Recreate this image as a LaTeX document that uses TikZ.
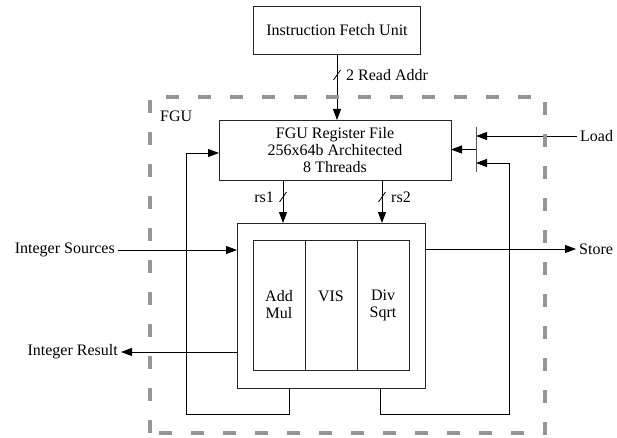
\documentclass[tikz,border=0pt]{standalone}
\usepackage{fontspec}
\setmainfont{Liberation Serif}
\usepackage{tikz}
\usetikzlibrary{arrows.meta,positioning,calc}
\definecolor{fgugray}{RGB}{150,150,150}

\begin{document}
\begin{tikzpicture}[
        x=1pt, y=-1pt,
        font=\fontsize{16}{17}\selectfont,
        box/.style={draw=black!85, line width=0.8pt, align=center,
                    inner sep=0pt, outer sep=0pt},
        cell/.style={box, minimum width=52pt, minimum height=130pt},
        lbl/.style={inner sep=3pt},
        arr/.style={-{Triangle[length=11pt,width=8pt]}, line width=0.8pt},
        wire/.style={line width=0.8pt},
        fgubox/.style={draw=fgugray, line width=4pt, dash pattern=on 13pt off 19pt},
        busmark/.pic={\draw[wire] (-3.5,5) -- (3.5,-5);}
      ]
        \useasboundingbox (0,0) rectangle (617,438);

        \node[box, minimum width=167pt, minimum height=48pt] (ifu) at (337,30)
          {Instruction Fetch Unit};
        \node[box, minimum width=232pt, minimum height=60pt] (regfile) at (335,150)
          {FGU Register File\\256x64b Architected\\8 Threads};
        \node[box, minimum width=188pt, minimum height=165pt] (exec) at (331,305.5) {};
        \node[cell] (addmul) at (279,305) {Add\\Mul};
        \node[cell, right=0pt of addmul] (vis) {VIS\\\phantom{I}};
        \node[cell, right=0pt of vis] (divsqrt) {Div\\Sqrt};
        \node[draw, line width=0.8pt, minimum width=0pt, minimum height=45pt,
              inner sep=0pt, outer sep=0pt] (mux) at (476,149.5) {};

        \node[lbl, anchor=west] (fgulabel) at (157,116) {FGU};
        \node[lbl, anchor=west] (rdaddr) at (343,75) {2 Read Addr};
        \node[lbl, anchor=east] (rs1) at (277,197) {rs1};
        \node[lbl, anchor=west] (rs2) at (388,197) {rs2};
        \node[lbl, anchor=east] (intsrc) at (118,250) {Integer Sources};
        \node[lbl, anchor=east] (intres) at (121,352) {Integer Result};
        \node[lbl, anchor=west] (store) at (576,249) {Store};
        \node[lbl, anchor=west] (load) at (577,136) {Load};

        \draw[arr] (ifu) -- (ifu |- regfile.north);
        \pic at (337,75) {busmark};
        \draw[arr] ($(regfile.south)+(-52,0)$) coordinate (rs1top) -- (rs1top |- exec.north);
        \draw[arr] ($(regfile.south)+(47,0)$) coordinate (rs2top) -- (rs2top |- exec.north);
        \pic at (283,197) {busmark};
        \pic at (382,197) {busmark};

        \draw[arr] (intsrc) -- (intsrc -| exec.west);
        \draw[arr] (intres -| exec.west) -- (intres);
        \draw[arr] (store -| exec.east) -- (store);
        \draw[arr] (load) -- (load -| mux);
        \draw[arr] (mux) -- (mux -| regfile.east);

        \draw[arr] ($(exec.south)+(-42,0)$) -- ++(0,26)
          -| ($(regfile.west)+(-33,3)$) -- ($(regfile.west)+(0,3)$);
        \draw[arr] ($(exec.south)+(49,0)$) -- ++(0,26)
          -| ($(mux)+(33,13.5)$) -- ($(mux)+(0,13.5)$);

        \draw[fgubox] (150,433) -- (150,97) -- (545,97) -- (545,433) -- cycle;
      \end{tikzpicture}
\end{document}
